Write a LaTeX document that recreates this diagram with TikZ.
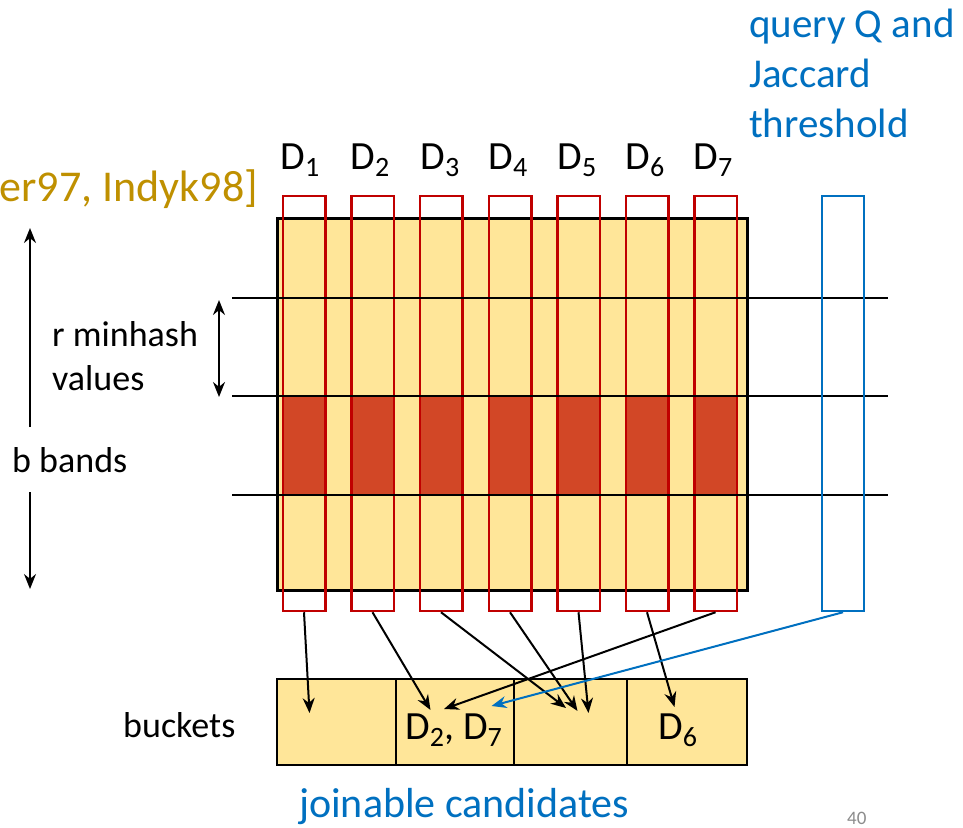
\documentclass[tikz,border=0pt]{standalone}
\usepackage{fontspec}
\setmainfont{Carlito}
\usetikzlibrary{arrows.meta}
\definecolor{cellyellow}{HTML}{FFE699}
\definecolor{bandred}{HTML}{D24726}
\definecolor{colred}{HTML}{C00000}
\definecolor{qblue}{HTML}{0070C0}
\definecolor{goldtxt}{HTML}{BF9000}
\definecolor{pagegray}{HTML}{8C8C8C}
\newcommand{\dsub}[1]{\raisebox{-0.19em}{\fontsize{28}{28}\selectfont #1}}
\begin{document}
\begin{tikzpicture}[x=1pt,y=-1pt,
  txt/.style={font=\fontsize{36}{43}\selectfont, inner sep=0pt},
  dtxt/.style={font=\fontsize{40}{48}\selectfont, inner sep=0pt},
  bluetxt/.style={font=\fontsize{41}{50}\selectfont, text=qblue, inner sep=0pt},
  grid/.style={draw=black, line width=3pt, fill=cellyellow, minimum width=470pt, minimum height=372pt, inner sep=0pt},
  bandcell/.style={fill=bandred, minimum width=42.5pt, minimum height=98pt, inner sep=0pt},
  colbox/.style={draw=colred, line width=2.5pt, minimum width=42.5pt, minimum height=415pt, inner sep=0pt},
  qbox/.style={draw=qblue, line width=2.5pt, minimum width=42pt, minimum height=415pt, inner sep=0pt},
  bucket/.style={draw=black, line width=2pt, fill=cellyellow, minimum height=86pt, inner sep=0pt},
  hline/.style={draw=black, line width=2.5pt},
  arr/.style={line width=2pt, -{Stealth[length=15pt,width=12pt]}},
  dblarr/.style={line width=2pt, {Stealth[length=15pt,width=12pt]}-{Stealth[length=15pt,width=12pt]}}
]
\clip (0,0) rectangle (963,827);
\fill[white] (0,0) rectangle (963,827);

% signature matrix
\node[grid] (M) at (512,404) {};
% band cells
\foreach \i/\cx in {1/304,2/372.5,3/441,4/510,5/578.5,6/647,7/715.5}{
  \node[bandcell] (r\i) at (\cx,446) {};
}
% document columns
\foreach \i/\cx in {1/304,2/372.5,3/441,4/510,5/578.5,6/647,7/715.5}{
  \node[colbox] (c\i) at (\cx,403.5) {};
}
% band lines
\coordinate (h1a) at (232,298); \coordinate (h1b) at (888,298);
\coordinate (h2a) at (232,396); \coordinate (h2b) at (888,396);
\coordinate (h3a) at (232,495); \coordinate (h3b) at (888,495);
\draw[hline] (h1a) -- (h1b);
\draw[hline] (h2a) -- (h2b);
\draw[hline] (h3a) -- (h3b);
% query column
\node[qbox] (q) at (843,403.5) {};

% buckets
\node[bucket, minimum width=119pt] (b1) at (336.5,722) {};
\node[bucket, minimum width=118pt] (b2) at (455,722) {};
\node[bucket, minimum width=113pt] (b3) at (570.5,722) {};
\node[bucket, minimum width=120pt] (b4) at (687,722) {};

% arrow ends
\coordinate (e1) at (309.5,713);
\coordinate (e2) at (430.5,710);
\coordinate (e3) at (566,708);
\coordinate (e4) at (577.5,711);
\coordinate (e5) at (588.5,713);
\coordinate (e6) at (674.5,707);
\coordinate (e7) at (444,709);
\coordinate (e8) at (491.5,706);
\draw[arr] (c1.south) -- (e1);
\draw[arr] (c2.south) -- (e2);
\draw[arr] (c3.south) -- (e3);
\draw[arr] (c4.south) -- (e4);
\draw[arr] (c5.south) -- (e5);
\draw[arr] (c6.south) -- (e6);
\draw[arr] (c7.south) -- (e7);
\draw[arr, qblue] (q.south) -- (e8);

% column labels
\foreach \i/\cx in {1/300,2/370,3/440,4/508,5/577,6/645,7/713}{
  \node[dtxt, anchor=base] (d\i) at (\cx,169) {D\dsub{\i}};
}
% bucket contents
\node[dtxt, anchor=base west] (t27) at (405,739) {D\dsub{2}, D\dsub{7}};
\node[dtxt, anchor=base west] (t6) at (658,739) {D\dsub{6}};

% left annotations
\node[txt, anchor=base west] (rm) at (52,346) {r minhash};
\node[txt, anchor=base west] (rv) at (52,390) {values};
\node[txt, anchor=base west] (bb) at (12,472) {b bands};
\node[txt, anchor=base west] (bk) at (123,737) {buckets};
\coordinate (rtop) at (219,300); \coordinate (rbot) at (219,397);
\draw[dblarr] (rtop) -- (rbot);
\coordinate (bup) at (30,427); \coordinate (btop) at (30,228);
\coordinate (bdn) at (30,492); \coordinate (bbot) at (30,589);
\draw[arr] (bup) -- (btop);
\draw[arr] (bdn) -- (bbot);

% reference (cut off at the left edge, as in the slide)
\node[font=\fontsize{44}{53}\selectfont, text=goldtxt, anchor=base east, inner sep=0pt] (ref) at (258,201) {er97, Indyk98]};

% query text
\node[bluetxt, anchor=base west] (q1) at (749,37) {query Q and};
\node[bluetxt, anchor=base west] (q2) at (749,87) {Jaccard};
\node[bluetxt, anchor=base west] (q3) at (749,137) {threshold};
\node[font=\fontsize{42}{50}\selectfont, text=qblue, inner sep=0pt, anchor=base west] (jc) at (299,817) {joinable candidates};

% page number
\node[font=\fontsize{19}{23}\selectfont, text=pagegray, anchor=base west, inner sep=0pt] (pg) at (847,824) {40};
\end{tikzpicture}
\end{document}
